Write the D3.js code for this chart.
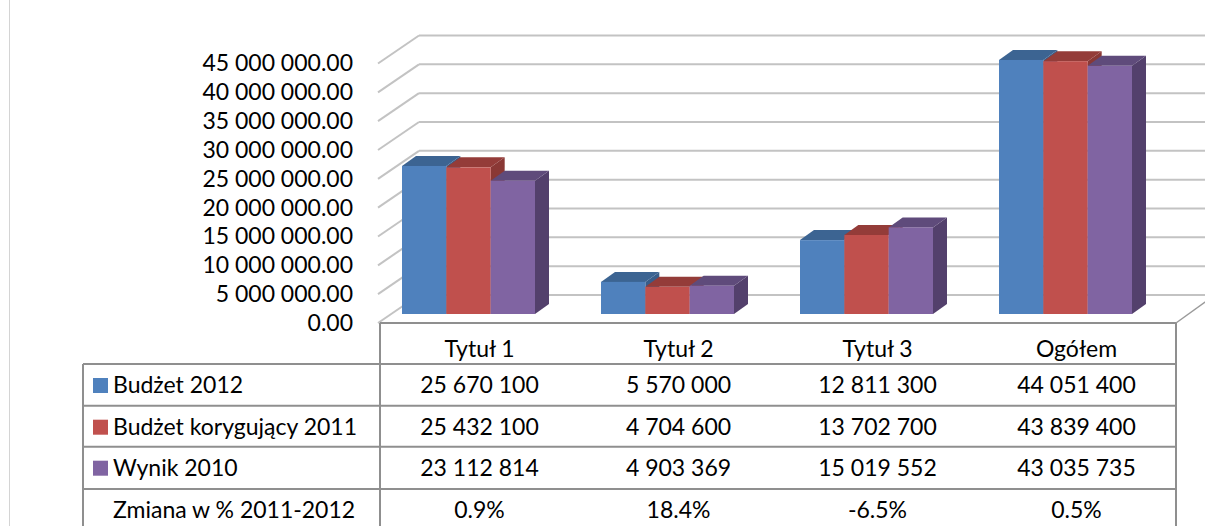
<html>
  <head>
    <meta charset="UTF-8">
    <style>
      body { margin: 0; background: #fff; }
      text { font-family: Lato, 'Open Sans', sans-serif; fill: #000; }
    </style>
  </head>
  <body>
    <svg id="chart" width="1205" height="526"></svg>
    <script src="https://d3js.org/d3.v7.min.js"></script>
    <script>
      var categories = ["Tytuł 1", "Tytuł 2", "Tytuł 3", "Ogółem"];
      var seriesNames = ["Budżet 2012", "Budżet korygujący 2011", "Wynik 2010"];
      var budzet2012 = [25670100, 5570000, 12811300, 44051400];
      var budzetKorygujacy2011 = [25432100, 4704600, 13702700, 43839400];
      var wynik2010 = [23112814, 4903369, 15019552, 43035735];
      var zmianaLabel = "Zmiana w % 2011-2012";
      var zmiana = [0.9, 18.4, -6.5, 0.5];
      var yTicks = [0, 5000000, 10000000, 15000000, 20000000, 25000000, 30000000, 35000000, 40000000, 45000000];

      var seriesValues = [budzet2012, budzetKorygujacy2011, wynik2010];
      var frontColors = ["#4f81bd", "#c0504d", "#8064a2"],
          topColors = ["#3c6492", "#943c39", "#5f4b7b"],
          sideColors = ["#385d8a", "#8a3835", "#53406c"];

      var locale = d3.formatLocale({decimal: ".", thousands: " ", grouping: [3], currency: ["", ""]});
      var fmtAxis = locale.format(",.2f"), fmtInt = locale.format(",d");

      var svg = d3.select("#chart");
      var fontSize = 23;

      // 3d frame
      var floorX0 = 380, floorX1 = 1176, depthX = 39, depthY = -28;
      var y = d3.scaleLinear().domain([0, 45000000]).range([323, 63.5]);
      var x = d3.scaleBand().domain(categories).range([floorX0, floorX1]);

      // chart area border
      svg.append("line").attr("x1", 9.5).attr("x2", 9.5).attr("y1", 0).attr("y2", 526)
        .attr("stroke", "#d4d4d4").attr("stroke-width", 1);

      /* back wall and left wall grid */
      yTicks.forEach(function(t) {
        svg.append("line")
          .attr("x1", floorX0 + depthX).attr("x2", 1210)
          .attr("y1", y(t) + depthY).attr("y2", y(t) + depthY)
          .attr("stroke", "#c3c3c3").attr("stroke-width", 2);
        svg.append("line")
          .attr("x1", floorX0 - 2).attr("x2", floorX0 + depthX)
          .attr("y1", y(t)).attr("y2", y(t) + depthY)
          .attr("stroke", "#c3c3c3").attr("stroke-width", 2);
      });
      // floor right edge
      svg.append("line").attr("x1", floorX1).attr("y1", y(0))
        .attr("x2", floorX1 + depthX).attr("y2", y(0) + depthY)
        .attr("stroke", "#9a9a9a").attr("stroke-width", 1.5);

      /* y axis labels */
      var axis = svg.append("g")
        .attr("transform", "translate(359,0)")
        .call(d3.axisLeft(y).tickValues(yTicks).tickFormat(fmtAxis).tickSize(0).tickPadding(6));
      axis.select(".domain").remove();
      axis.selectAll("text").style("font-size", fontSize + "px").attr("fill", "#000")
        .style("font-family", "Lato, sans-serif");

      /* bars */
      var barDX = 12.5, barDY = -9, barShift = -11, depthBX = 14, depthBY = -10;
      var inner = d3.scaleBand().domain(seriesNames).range([-66.5, 66.5]);
      categories.forEach(function(c, ci) {
        seriesNames.forEach(function(s, si) {
          var v = seriesValues[si][ci];
          var x0 = x(c) + x.bandwidth() / 2 + barShift + inner(s),
              x1 = x0 + inner.bandwidth(),
              yb = y(0) + barDY,
              yt = y(v) + barDY;
          var g = svg.append("g");
          g.append("path")
            .attr("d", "M" + x1 + "," + yt + "L" + (x1 + depthBX) + "," + (yt + depthBY) +
              "L" + (x1 + depthBX) + "," + (yb + depthBY) + "L" + x1 + "," + yb + "Z")
            .attr("fill", sideColors[si]);
          g.append("path")
            .attr("d", "M" + x0 + "," + yt + "L" + (x0 + depthBX) + "," + (yt + depthBY) +
              "L" + (x1 + depthBX) + "," + (yt + depthBY) + "L" + x1 + "," + yt + "Z")
            .attr("fill", topColors[si]);
          g.append("rect")
            .attr("x", x0).attr("y", yt).attr("width", x1 - x0).attr("height", yb - yt)
            .attr("fill", frontColors[si]);
        });
      });

      /* data table */
      var tableLeft = 83, rowTops = [364, 405.7, 446.7, 489, 530.5];
      var lineColor = "#8f8f8f";
      var tbl = svg.append("g");
      // floor front edge / header top
      tbl.append("line").attr("x1", floorX0).attr("x2", floorX1).attr("y1", y(0)).attr("y2", y(0))
        .attr("stroke", lineColor).attr("stroke-width", 2);
      rowTops.forEach(function(r) {
        tbl.append("line").attr("x1", tableLeft).attr("x2", floorX1).attr("y1", r).attr("y2", r)
          .attr("stroke", lineColor).attr("stroke-width", 2);
      });
      [[tableLeft, rowTops[0]], [floorX0, y(0)], [floorX1, y(0)]].forEach(function(p) {
        tbl.append("line").attr("x1", p[0]).attr("x2", p[0]).attr("y1", p[1]).attr("y2", 530)
          .attr("stroke", lineColor).attr("stroke-width", 2);
      });

      categories.forEach(function(c) {
        tbl.append("text")
          .attr("x", x(c) + x.bandwidth() / 2).attr("y", 357)
          .attr("text-anchor", "middle").style("font-size", fontSize + "px")
          .text(c);
      });

      var fmtPct = function(v) { return v.toFixed(1) + "%"; };
      var rows = seriesNames.map(function(s, si) {
        return {label: s, color: frontColors[si], cells: seriesValues[si].map(fmtInt)};
      });
      rows.push({label: zmianaLabel, color: null, cells: zmiana.map(fmtPct)});

      rows.forEach(function(r, ri) {
        var base = rowTops[ri] + 29;
        if (r.color) {
          tbl.append("rect").attr("x", 93).attr("y", base - 15).attr("width", 15).attr("height", 15)
            .attr("fill", r.color);
        }
        tbl.append("text").attr("x", 113).attr("y", base)
          .style("font-size", fontSize + "px").text(r.label);
        r.cells.forEach(function(t, ci) {
          tbl.append("text")
            .attr("x", x(categories[ci]) + x.bandwidth() / 2).attr("y", base)
            .attr("text-anchor", "middle").style("font-size", fontSize + "px")
            .text(t);
        });
      });
    </script>
  </body>
</html>
